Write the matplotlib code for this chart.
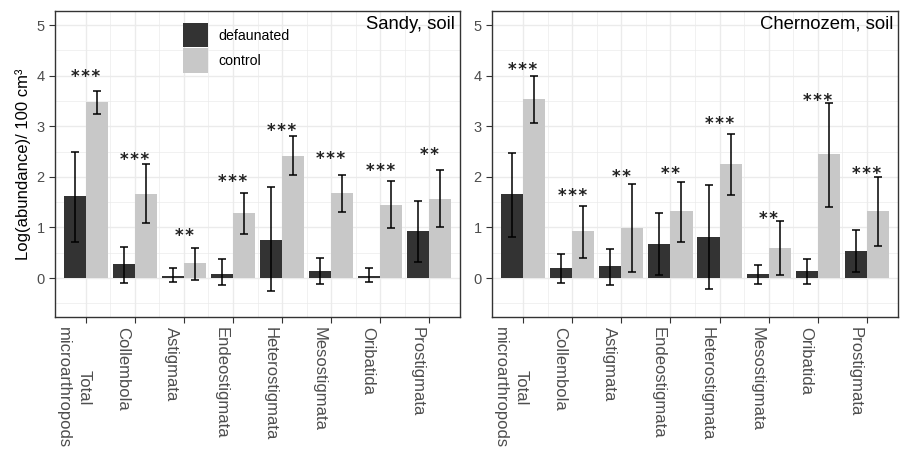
import matplotlib
matplotlib.use("Agg")
import matplotlib.pyplot as plt
import matplotlib.transforms as mtransforms
import numpy as np
from matplotlib.patches import Patch

plt.rcParams['font.family'] = ['Liberation Sans', 'DejaVu Sans']

categories = ["Total\nmicroarthropods", "Collembola", "Astigmata", "Endeostigmata",
              "Heterostigmata", "Mesostigmata", "Oribatida", "Prostigmata"]

# Sandy soil
sandy_def = [1.62, 0.28, 0.05, 0.08, 0.76, 0.13, 0.04, 0.93]
sandy_def_lo = [0.71, -0.10, -0.08, -0.14, -0.26, -0.12, -0.08, 0.32]
sandy_def_hi = [2.50, 0.62, 0.19, 0.37, 1.80, 0.39, 0.19, 1.52]
sandy_ctl = [3.48, 1.67, 0.30, 1.28, 2.42, 1.69, 1.45, 1.57]
sandy_ctl_lo = [3.24, 1.08, -0.03, 0.87, 2.04, 1.31, 0.99, 1.01]
sandy_ctl_hi = [3.70, 2.25, 0.60, 1.69, 2.80, 2.03, 1.91, 2.14]
sandy_sig = ["***", "***", "**", "***", "***", "***", "***", "**"]
sandy_sig_y = [4.06, 2.43, 0.93, 2.00, 3.00, 2.45, 2.21, 2.52]

# Chernozem soil
chern_def = [1.67, 0.20, 0.23, 0.67, 0.81, 0.09, 0.14, 0.53]
chern_def_lo = [0.82, -0.10, -0.14, 0.07, -0.21, -0.12, -0.12, 0.11]
chern_def_hi = [2.47, 0.48, 0.58, 1.28, 1.83, 0.25, 0.37, 0.95]
chern_ctl = [3.55, 0.93, 0.99, 1.32, 2.25, 0.60, 2.46, 1.32]
chern_ctl_lo = [3.07, 0.39, 0.11, 0.72, 1.64, 0.07, 1.41, 0.64]
chern_ctl_hi = [3.99, 1.43, 1.86, 1.89, 2.84, 1.13, 3.47, 1.99]
chern_sig = ["***", "***", "**", "**", "***", "**", "***", "***"]
chern_sig_y = [4.20, 1.71, 2.10, 2.15, 3.13, 1.25, 3.60, 2.15]

titles = ["Sandy, soil", "Chernozem, soil"]
legend_labels = ["defaunated", "control"]

DARK = "#333333"
LIGHT = "#c8c8c8"
GRID = "#ebebeb"
TICKC = "#4d4d4d"

fig = plt.figure(figsize=(9.01, 4.53), dpi=100)
axL = fig.add_axes([55/901, 1-317/453, (460-55)/901, (317-11)/453])
axR = fig.add_axes([492/901, 1-317/453, (898-492)/901, (317-11)/453])

panels = [
    (axL, sandy_def, sandy_def_lo, sandy_def_hi, sandy_ctl, sandy_ctl_lo, sandy_ctl_hi, sandy_sig, sandy_sig_y),
    (axR, chern_def, chern_def_lo, chern_def_hi, chern_ctl, chern_ctl_lo, chern_ctl_hi, chern_sig, chern_sig_y),
]

x = np.arange(len(categories))
w = 0.45
star_fs = 12
label_shift = mtransforms.ScaledTranslation(-12/100, 0, fig.dpi_scale_trans)
for i, (ax, d, dlo, dhi, c, clo, chi, sig, sigy) in enumerate(panels):
    ax.set_facecolor("white")
    ax.set_xlim(-0.63, len(categories) - 1 + 0.63)
    ax.set_ylim(-0.77, 5.28)
    ax.set_yticks(range(0, 6))
    ax.set_yticks(np.arange(-0.5, 5.1, 1.0), minor=True)
    ax.set_xticks(x)
    ax.set_xticks(x[:-1] + 0.5, minor=True)
    ax.grid(True, which="major", color=GRID, lw=1.0, zorder=0)
    ax.grid(True, which="minor", color=GRID, lw=0.5, zorder=0)
    ax.set_axisbelow(True)
    ax.tick_params(axis="both", which="minor", length=0)
    ax.tick_params(axis="both", which="major", length=4, color="#333333",
                   labelcolor=TICKC)
    ax.tick_params(axis="y", labelsize=10.5)
    for s in ax.spines.values():
        s.set_color("#333333")
        s.set_linewidth(1.0)
    d = np.array(d); c = np.array(c)
    ax.bar(x - w/2, d, width=w, color=DARK, zorder=2)
    ax.bar(x + w/2, c, width=w, color=LIGHT, zorder=2)
    ax.errorbar(x - w/2, d, yerr=[d - np.array(dlo), np.array(dhi) - d],
                fmt="none", ecolor="black", elinewidth=1.1, capsize=2.7, capthick=1.1, zorder=3)
    ax.errorbar(x + w/2, c, yerr=[c - np.array(clo), np.array(chi) - c],
                fmt="none", ecolor="black", elinewidth=1.1, capsize=2.7, capthick=1.1, zorder=3)
    for xi, s, yv in zip(x, sig, sigy):
        ax.annotate("\u200a".join(s), (xi, yv), xytext=(0, -0.58*star_fs), textcoords="offset points",
                    ha="center", va="baseline", fontsize=star_fs, color="#222222",
                    family="DejaVu Sans", weight="bold", zorder=4)
    ax.set_xticklabels(categories, rotation=270, ha="center", va="top",
                       multialignment="center", linespacing=1.45, fontsize=12, color=TICKC)
    for lab in ax.get_xticklabels():
        lab.set_transform(lab.get_transform() + label_shift)
    ax.text(1 - 5/406, 0.985, titles[i], transform=ax.transAxes, ha="right", va="top",
            fontsize=13.3, color="black")

axL.set_ylabel("Log(abundance)/ 100 cm³", fontsize=12, color="black", labelpad=4)

handles = [Patch(facecolor=DARK, label=legend_labels[0]),
           Patch(facecolor=LIGHT, label=legend_labels[1])]
axL.legend(handles=handles, loc="upper left", bbox_to_anchor=(0.2875, 1.0),
           frameon=False, fontsize=10.2, handlelength=1.7, handleheight=2.25,
           handletextpad=0.75, labelspacing=0.08, borderaxespad=0.45)

fig.savefig("out.png", dpi=100, facecolor="white")
